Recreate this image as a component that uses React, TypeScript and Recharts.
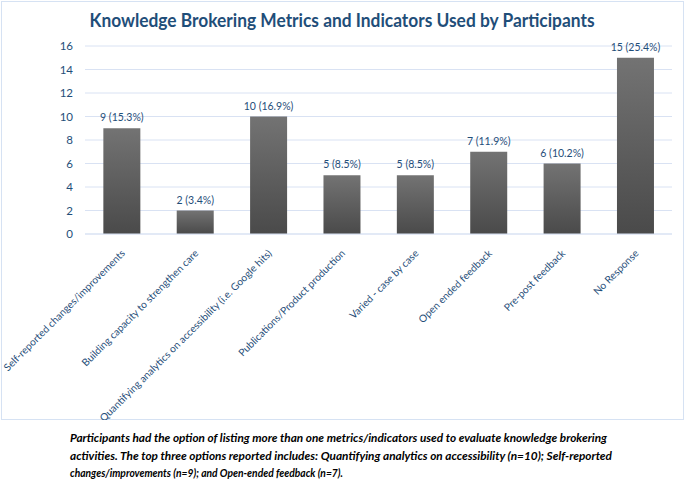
import { Bar, BarChart, CartesianGrid, LabelList, XAxis, YAxis } from "recharts";

const categories = [
  "Self-reported changes/improvements",
  "Building capacity to strengthen care",
  "Quantifying analytics on accessibility (i.e. Google hits)",
  "Publications/Product production",
  "Varied - case by case",
  "Open ended feedback",
  "Pre-post feedback",
  "No Response",
];
const counts = [9, 2, 10, 5, 5, 7, 6, 15];
const percents = ["15.3%", "3.4%", "16.9%", "8.5%", "8.5%", "11.9%", "10.2%", "25.4%"];
const yTicks = [0, 2, 4, 6, 8, 10, 12, 14, 16];

const TITLE = "Knowledge Brokering Metrics and Indicators Used by Participants";
const CAPTION = [
  "Participants had the option of listing more than one metrics/indicators used to evaluate knowledge brokering",
  "activities. The top three options reported includes: Quantifying analytics on accessibility (n=10); Self-reported",
  "changes/improvements (n=9); and Open-ended feedback (n=7).",
];
const CAPTION_WIDTHS = [537, 542, 273];

const BLUE = "#1F4E79";
const FONT = "Lato, 'Open Sans', sans-serif";

const data = categories.map((name, i) => ({
  name,
  count: counts[i],
  label: `${counts[i]} (${percents[i]})`,
}));

function XTick(props: any) {
  const { x, y, payload } = props;
  const tx = x + 4;
  const ty = y + 20;
  return (
    <text
      x={tx}
      y={ty}
      transform={`rotate(-45 ${tx} ${ty})`}
      textAnchor="end"
      fontSize={10.2}
      fontFamily={FONT}
      fill={BLUE}
    >
      {payload.value}
    </text>
  );
}

function ValueLabel(props: any) {
  const { x, y, width, value } = props;
  return (
    <text
      x={x + width / 2}
      y={y - 7}
      textAnchor="middle"
      fontSize={10.5}
      fontFamily={FONT}
      fill={BLUE}
    >
      {value}
    </text>
  );
}

export default function App() {
  return (
    <div
      style={{
        position: "absolute",
        left: 0,
        top: 0,
        width: 685,
        height: 483,
        background: "#fff",
        fontFamily: FONT,
      }}
    >
      <div
        style={{
          position: "absolute",
          left: 1,
          top: 1,
          width: 681,
          height: 417,
          border: "1px solid #D6E2F3",
        }}
      />
      <div style={{ position: "absolute", left: 0, top: 0 }}>
        <BarChart
          width={685}
          height={420}
          data={data}
          margin={{ top: 46, right: 13, left: 0, bottom: 0 }}
          barCategoryGap="25%"
        >
          <defs>
            <linearGradient id="barFill" x1="0" y1="0" x2="0" y2="1">
              <stop offset="0%" stopColor="#737373" />
              <stop offset="100%" stopColor="#4a4a4a" />
            </linearGradient>
          </defs>
          <text
            x={342}
            y={27}
            textAnchor="middle"
            fontSize={19}
            fontWeight="bold"
            fontFamily={FONT}
            fill={BLUE}
            textLength={505}
            lengthAdjust="spacingAndGlyphs"
          >
            {TITLE}
          </text>
          <CartesianGrid vertical={false} stroke="#D9E2F3" />
          <XAxis
            dataKey="name"
            interval={0}
            height={186}
            axisLine={{ stroke: "#D9E2F3" }}
            tickLine={false}
            tickSize={0}
            tickMargin={0}
            tick={<XTick />}
          />
          <YAxis
            width={85}
            domain={[0, 16]}
            ticks={yTicks}
            axisLine={false}
            tickLine={false}
            tickSize={0}
            tickMargin={12}
            tick={{ fontSize: 11.5, fill: BLUE, fontFamily: FONT }}
          />
          <Bar dataKey="count" fill="url(#barFill)" isAnimationActive={false}>
            <LabelList dataKey="label" content={<ValueLabel />} />
          </Bar>
        </BarChart>
      </div>
      <svg
        width={685}
        height={63}
        style={{ position: "absolute", left: 0, top: 420 }}
      >
        {CAPTION.map((line, i) => (
          <text
            key={i}
            x={70}
            y={22 + i * 17.5}
            fontSize={11.5}
            fontWeight="bold"
            fontStyle="italic"
            fontFamily={FONT}
            fill="#000"
            textLength={CAPTION_WIDTHS[i]}
            lengthAdjust="spacingAndGlyphs"
          >
            {line}
          </text>
        ))}
      </svg>
    </div>
  );
}
